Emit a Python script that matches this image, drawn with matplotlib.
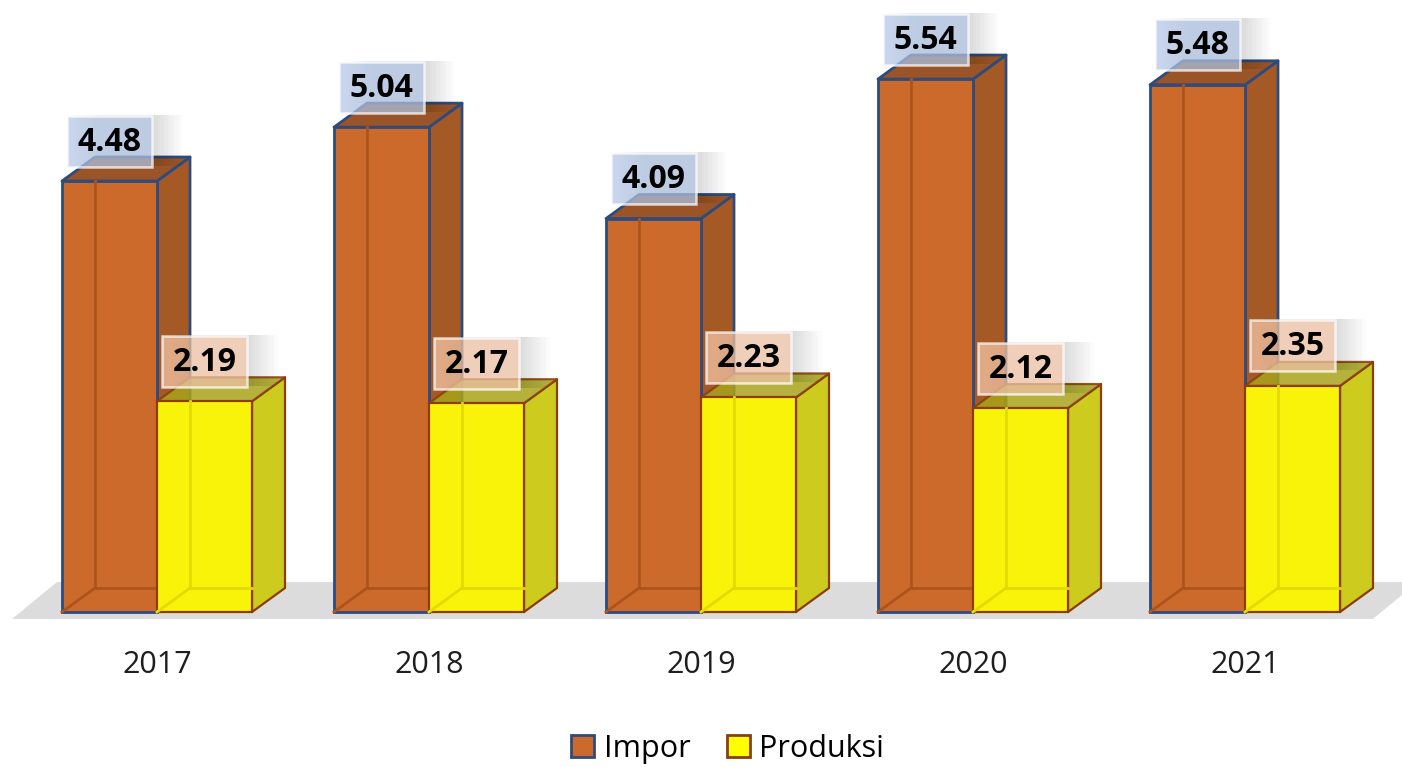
import numpy as np
import matplotlib.pyplot as plt
from matplotlib.patches import Polygon, Rectangle, Patch

# datos
tahun = ['2017', '2018', '2019', '2020', '2021']
impor = [4.48, 5.04, 4.09, 5.54, 5.48]
produksi = [2.19, 2.17, 2.23, 2.12, 2.35]

# escala (pixeles por unidad)
px_cat = 272.0
px_val = 96.2

fig = plt.figure(figsize=(14.02, 7.67), dpi=100)
ax = fig.add_axes([0, 0, 1, 1])
ax.set_xlim(-157 / px_cat, (1402 - 157) / px_cat)
ax.set_ylim(-(767 - 612) / px_val, 612 / px_val)
ax.axis('off')

w = 95 / px_cat          # ancho de barra
dx = 33 / px_cat         # profundidad en x
dy = 24 / px_val         # profundidad en y
x = np.arange(len(tahun))
n = len(tahun)

# piso gris
fy0, fy1 = -7 / px_val, 30 / px_val
fdx = 45 / px_cat
piso = Polygon([(-0.533, fy0), (n - 1 + 0.47, fy0), (n - 1 + 0.47 + fdx, fy1), (-0.533 + fdx, fy1)],
               closed=True, fc='#dcdcdc', ec='none', zorder=1)
ax.add_patch(piso)


def barra_3d(xs, vals, front, side, top, edge, inner, lw, z, top_alpha=1.0):
    ax.bar(xs + w / 2, vals, width=w, color=front, edgecolor=edge, linewidth=lw, zorder=z + 1)
    for x0, h in zip(xs, vals):
        lado = Polygon([(x0 + w, 0), (x0 + w + dx, dy), (x0 + w + dx, h + dy), (x0 + w, h)],
                       closed=True, fc=side, ec=edge, lw=lw, zorder=z, joinstyle='round')
        tapa = Polygon([(x0, h), (x0 + dx, h + dy), (x0 + w + dx, h + dy), (x0 + w, h)],
                       closed=True, fc=top, ec=edge, lw=lw, zorder=z + 0.5, alpha=top_alpha,
                       joinstyle='round')
        ax.add_patch(lado)
        ax.add_patch(tapa)
        # aristas ocultas vistas por transparencia
        ax.plot([x0 + dx, x0 + dx], [dy, h], color=inner, lw=2, zorder=z + 1.2)
        ax.plot([x0 + dx, x0 + w], [dy, dy], color=inner, lw=2, zorder=z + 1.2)
        ax.plot([x0, x0 + dx], [0, dy], color=inner, lw=2, zorder=z + 1.2)


barra_3d(x - w, impor, '#cb6a2b', '#a55a26', '#9a5427', '#2e4b7d', '#ab541d', 2.0, 2)
barra_3d(x * 1.0, produksi, '#f9f30a', '#cccb1e', '#a8a41a', '#8b3d0c', '#e2da04', 1.6, 5, top_alpha=0.85)

# etiquetas de valor
bw, bh = 85 / px_cat, 51 / px_val
off = 40 / px_val


def etiqueta(xc, v, fc):
    yc = v + off
    # sombra suave
    for k in range(12):
        ax.add_patch(Rectangle((xc - bw / 2 + (3 + 2.5 * k) / px_cat, yc - bh / 2 + 1 / px_val), bw, bh,
                               fc='#000000', ec='none', alpha=0.012, zorder=9))
    ax.add_patch(Rectangle((xc - bw / 2, yc - bh / 2), bw, bh, fc=fc, ec=(1, 1, 1, 0.7),
                           lw=1.8, alpha=0.72, zorder=10))
    ax.text(xc, yc - 1 / px_val, f'{v:.2f}', ha='center', va='center', fontsize=23, fontweight='bold',
            family='Open Sans', color='black', zorder=11)


for i in range(n):
    etiqueta(x[i] - w / 2, impor[i], '#b4c7e7')
    etiqueta(x[i] + w / 2, produksi[i], '#f8cbad')

# etiquetas de categoria
for i, t in enumerate(tahun):
    ax.text(x[i], -53 / px_val, t, ha='center', va='center', fontsize=22, family='Open Sans', color='#1e1e1e')

# leyenda
handles = [Patch(fc='#cb6a2b', ec='#2e4b7d', lw=2), Patch(fc='#ffff00', ec='#8b3d0c', lw=2)]
fig.legend(handles, ['Impor', 'Produksi'], loc='center', bbox_to_anchor=(0.519, 0.024), ncol=2,
           frameon=False, prop={'family': 'Open Sans', 'size': 22}, handlelength=0.75, handleheight=0.75,
           handletextpad=0.3, columnspacing=1.2)

fig.savefig('out.png', dpi=100)
